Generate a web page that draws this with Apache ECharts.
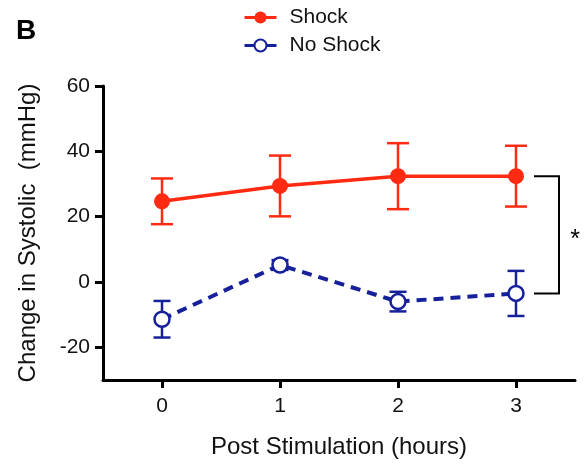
<!DOCTYPE html>
<html>
<head>
<meta charset="utf-8">
<script src="https://cdn.jsdelivr.net/npm/echarts@6/dist/echarts.min.js"></script>
<style>
  html, body { margin: 0; padding: 0; background: #fff; }
  #chart { width: 588px; height: 464px; }
</style>
</head>
<body>
<div id="chart"></div>
<script>
  // data
  const hours = [0, 1, 2, 3]
  const shockMean = [24.7, 29.4, 32.4, 32.4]
  const shockErr = [7.0, 9.3, 10.1, 9.3]
  const noShockMean = [-11.4, 5.2, -6.0, -3.5]
  const noShockErr = [5.6, 1.5, 3.0, 6.9]
  const yTicks = [-20, 0, 20, 40, 60]

  const RED = '#ff2a12'
  const BLUE = '#15209a'
  const FONT = 'Liberation Sans, Arial, sans-serif'

  const chart = echarts.init(document.getElementById('chart'))

  // error bar series (drawn under the lines)
  const errorBars = (name, color, cap, means, errs) => ({
    name: name,
    type: 'custom',
    z: 1,
    silent: true,
    data: hours.map((h, i) => [h, means[i] - errs[i], means[i] + errs[i]]),
    renderItem: (params, api) => {
      const x = api.value(0)
      const lo = api.coord([x, api.value(1)])
      const hi = api.coord([x, api.value(2)])
      const hw = cap / 2
      const style = { stroke: color, lineWidth: 2.5 }
      return {
        type: 'group',
        children: [
          { type: 'line', shape: { x1: lo[0], y1: lo[1], x2: hi[0], y2: hi[1] }, style },
          { type: 'line', shape: { x1: lo[0] - hw, y1: lo[1], x2: lo[0] + hw, y2: lo[1] }, style },
          { type: 'line', shape: { x1: hi[0] - hw, y1: hi[1], x2: hi[0] + hw, y2: hi[1] }, style }
        ]
      }
    }
  })

  // significance bracket at the last time point
  const last = hours.length - 1
  const bracket = {
    name: 'sig',
    type: 'custom',
    silent: true,
    clip: false,
    data: [[hours[last], shockMean[last], noShockMean[last]]],
    renderItem: (params, api) => {
      const a = api.coord([api.value(0), api.value(1)])
      const b = api.coord([api.value(0), api.value(2)])
      const x0 = a[0] + 18
      const x1 = a[0] + 43
      return {
        type: 'group',
        children: [
          {
            type: 'polyline',
            shape: { points: [[x0, a[1]], [x1, a[1]], [x1, b[1]], [x0, b[1]]] },
            style: { stroke: '#000', lineWidth: 2, fill: null }
          },
          {
            type: 'text',
            style: {
              text: '*', x: x1 + 16, y: (a[1] + b[1]) / 2 + 5,
              align: 'center', verticalAlign: 'middle',
              font: '25px ' + FONT, fill: '#000'
            }
          }
        ]
      }
    }
  }

  const options = {
    animation: false,
    title: {
      text: 'B',
      left: 11,
      top: 12,
      textStyle: { fontSize: 28, fontWeight: 'bold', color: '#000', fontFamily: FONT }
    },
    legend: {
      orient: 'vertical',
      left: 238,
      top: 2,
      itemWidth: 32,
      itemHeight: 15,
      itemGap: 7,
      data: ['Shock', 'No Shock'],
      lineStyle: { type: 'solid', width: 3 },
      textStyle: { fontSize: 21, color: '#111', fontFamily: FONT, padding: [0, 0, 0, 8] }
    },
    grid: { left: 103, right: 13, top: 86, bottom: 84 },
    xAxis: {
      type: 'value',
      min: -0.5,
      max: 3.5,
      name: 'Post Stimulation (hours)',
      nameLocation: 'middle',
      nameGap: 55,
      nameTextStyle: { fontSize: 24, color: '#111', fontFamily: FONT },
      splitLine: { show: false },
      axisLine: { onZero: false, lineStyle: { color: '#000', width: 3 } },
      axisTick: { length: 8, lineStyle: { width: 3, color: '#000' }, customValues: hours },
      axisLabel: { fontSize: 21, color: '#111', fontFamily: FONT, margin: 16, customValues: hours }
    },
    yAxis: {
      type: 'value',
      min: -30,
      max: 60,
      name: 'Change in Systolic  (mmHg)',
      nameLocation: 'middle',
      nameGap: 63,
      nameTextStyle: { fontSize: 24, color: '#111', fontFamily: FONT },
      splitLine: { show: false },
      axisLine: { show: true, onZero: false, lineStyle: { color: '#000', width: 3 } },
      axisTick: { show: true, length: 8, lineStyle: { width: 3, color: '#000' }, customValues: yTicks },
      axisLabel: { fontSize: 21, color: '#111', fontFamily: FONT, margin: 13, customValues: yTicks }
    },
    series: [
      errorBars('Shock SEM', RED, 22, shockMean, shockErr),
      errorBars('No Shock SEM', BLUE, 17, noShockMean, noShockErr),
      {
        name: 'Shock',
        type: 'line',
        z: 3,
        data: hours.map((h, i) => [h, shockMean[i]]),
        symbol: 'circle',
        symbolSize: 16,
        showSymbol: true,
        color: RED,
        lineStyle: { color: RED, width: 3.5 },
        itemStyle: { color: RED }
      },
      {
        name: 'No Shock',
        type: 'line',
        z: 3,
        data: hours.map((h, i) => [h, noShockMean[i]]),
        symbol: 'circle',
        symbolSize: 15,
        showSymbol: true,
        color: BLUE,
        lineStyle: { color: BLUE, width: 4, type: [10, 7] },
        itemStyle: { color: '#fff', borderColor: BLUE, borderWidth: 2.5 }
      },
      bracket
    ]
  }

  chart.setOption(options)
</script>
</body>
</html>
